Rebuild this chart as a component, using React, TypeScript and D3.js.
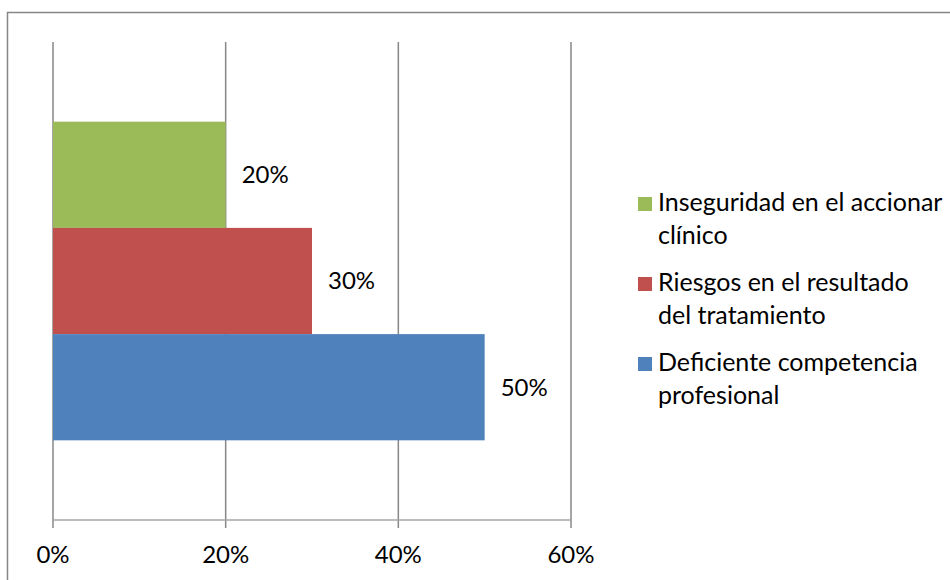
import React from "react";
import * as d3 from "d3";

const W = 950;
const H = 580;

// Single category, three series (top to bottom)
const categories = ["Total"];
const seriesNames = [
  "Inseguridad en el accionar clínico",
  "Riesgos en el resultado del tratamiento",
  "Deficiente competencia profesional",
];
const seriesValues = [20, 30, 50];
const seriesColors = ["#9bbb59", "#c0504d", "#4f81bd"];
const legendLines = [
  ["Inseguridad en el accionar", "clínico"],
  ["Riesgos en el resultado", "del tratamiento"],
  ["Deficiente competencia", "profesional"],
];
const xTicks = [0, 20, 40, 60];

const FONT = "Lato, 'Open Sans', sans-serif";
const FS = 24;
const LEGEND_FS = 25;

export default function App() {
  const plot = { left: 53, right: 571, top: 42, bottom: 520 };

  const x = d3.scaleLinear().domain([0, 60]).range([plot.left, plot.right]);
  const yCat = d3
    .scaleBand<string>()
    .domain(categories)
    .range([plot.top, plot.bottom])
    .padding(0.2);
  const ySer = d3
    .scaleBand<string>()
    .domain(seriesNames)
    .range([0, yCat.bandwidth()])
    .padding(0);

  const legendX = 638;
  const legendY0 = 211;
  const itemStep = 80;
  const lineStep = 32.5;

  return (
    <svg
      width={W}
      height={H}
      style={{ position: "absolute", left: 0, top: 0, display: "block" }}
      fontFamily={FONT}
    >
      <rect x={0} y={0} width={W} height={H} fill="#fff" />
      {/* chart frame */}
      <rect
        x={7.5}
        y={12.5}
        width={W + 10}
        height={H + 10}
        fill="none"
        stroke="#868686"
        strokeWidth={1.5}
      />

      {/* vertical gridlines */}
      {xTicks.map((t) => (
        <line
          key={"g" + t}
          x1={x(t)}
          x2={x(t)}
          y1={plot.top}
          y2={plot.bottom + 8}
          stroke="#878787"
          strokeWidth={1.5}
        />
      ))}

      {/* bars */}
      {categories.map((c) =>
        seriesNames.map((s, i) => {
          const y0 = (yCat(c) ?? 0) + (ySer(s) ?? 0);
          return (
            <g key={c + s}>
              <rect
                x={x(0)}
                y={y0}
                width={x(seriesValues[i]) - x(0)}
                height={ySer.bandwidth()}
                fill={seriesColors[i]}
              />
              <text
                x={x(seriesValues[i]) + 16}
                y={y0 + ySer.bandwidth() / 2}
                dy="0.35em"
                fontSize={FS}
                fill="#000"
              >
                {seriesValues[i] + "%"}
              </text>
            </g>
          );
        })
      )}

      {/* category axis line */}
      <line
        x1={plot.left}
        x2={plot.right}
        y1={plot.bottom}
        y2={plot.bottom}
        stroke="#a6a6a6"
        strokeWidth={1.5}
      />

      {/* x tick labels */}
      {xTicks.map((t) => (
        <text
          key={"t" + t}
          x={x(t)}
          y={563}
          textAnchor="middle"
          fontSize={FS}
          fill="#000"
        >
          {t + "%"}
        </text>
      ))}

      {/* legend */}
      {legendLines.map((lines, i) => (
        <g key={"l" + i}>
          <rect
            x={legendX}
            y={legendY0 + i * itemStep - 14}
            width={14}
            height={14}
            fill={seriesColors[i]}
          />
          {lines.map((ln, j) => (
            <text
              key={j}
              x={legendX + 20}
              y={legendY0 + i * itemStep + j * lineStep}
              fontSize={LEGEND_FS}
              fill="#000"
            >
              {ln}
            </text>
          ))}
        </g>
      ))}
    </svg>
  );
}
